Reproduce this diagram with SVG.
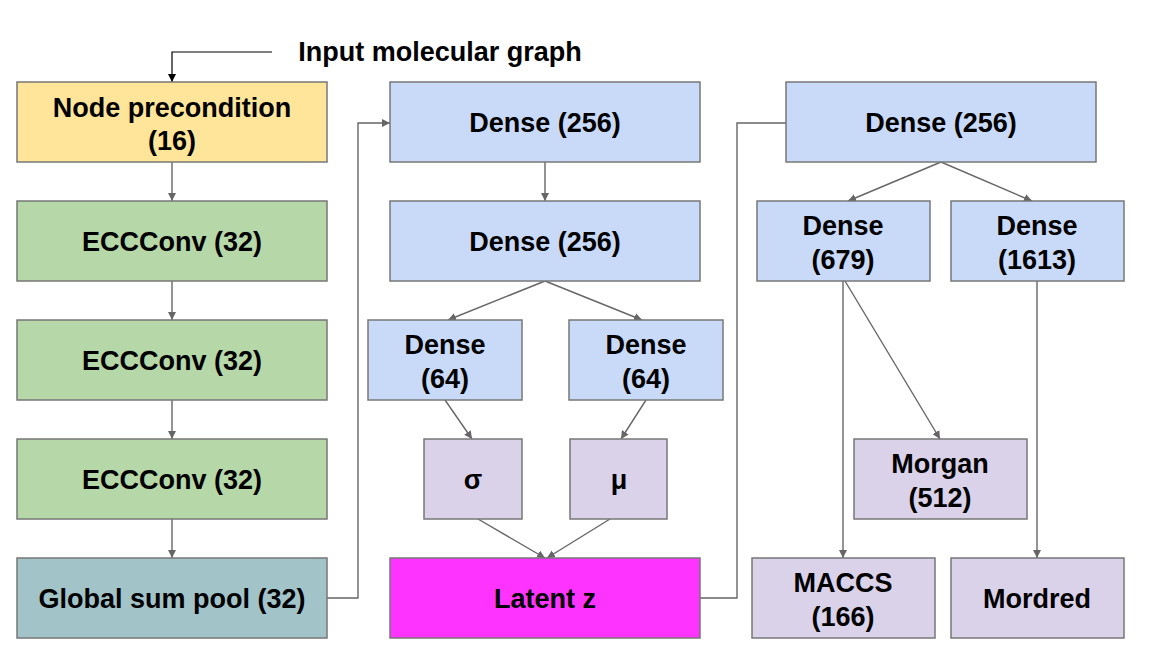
<svg xmlns="http://www.w3.org/2000/svg" width="1151" height="668" viewBox="0 0 1151 668">
<style>
.box{stroke:#777;stroke-width:1.5}
.y{fill:#ffe599}.g{fill:#b6d7a8}.t{fill:#a2c4c9}.b{fill:#c9daf8}.p{fill:#d9d2e9}.m{fill:#ff33ff}
text{font-family:"Liberation Sans",Arial,sans-serif;font-weight:bold;font-size:27px;fill:#000;text-anchor:middle}
.c{fill:none;stroke:#666;stroke-width:1.4}
</style>
<defs>
<marker id="ah" viewBox="0 0 10 10" refX="10" refY="5" markerWidth="8" markerHeight="8" markerUnits="userSpaceOnUse" orient="auto">
<path d="M0,0 L10,5 L0,10 z" fill="#666"/>
</marker>
<marker id="ahk" viewBox="0 0 10 10" refX="10" refY="5" markerWidth="8" markerHeight="8" markerUnits="userSpaceOnUse" orient="auto">
<path d="M0,0 L10,5 L0,10 z" fill="#000"/>
</marker>
</defs>
<rect width="1151" height="668" fill="#fff"/>
<g id="connectors">
<path d="M272,52 H172 V82" fill="none" stroke="#000" stroke-width="1.2" marker-end="url(#ahk)"/>
<path class="c" d="M172,162 V201" marker-end="url(#ah)"/>
<path class="c" d="M172,281 V320" marker-end="url(#ah)"/>
<path class="c" d="M172,400 V439" marker-end="url(#ah)"/>
<path class="c" d="M172,519 V558" marker-end="url(#ah)"/>
<path class="c" d="M327,598 H358 V123 H390" marker-end="url(#ah)"/>
<path class="c" d="M545,162 V201" marker-end="url(#ah)"/>
<path class="c" d="M545,281 L448,320" marker-end="url(#ah)"/>
<path class="c" d="M545,281 L642,320" marker-end="url(#ah)"/>
<path class="c" d="M445,400 L472,439" marker-end="url(#ah)"/>
<path class="c" d="M646,400 L621,439" marker-end="url(#ah)"/>
<path class="c" d="M478,519 L545,558" marker-end="url(#ah)"/>
<path class="c" d="M610,519 L547,558" marker-end="url(#ah)"/>
<path class="c" d="M700,598 H737 V123 H786"/>
<path class="c" d="M941,162 L848,201" marker-end="url(#ah)"/>
<path class="c" d="M941,162 L1032,201" marker-end="url(#ah)"/>
<path class="c" d="M843,281 V558" marker-end="url(#ah)"/>
<path class="c" d="M845,281 L940,439" marker-end="url(#ah)"/>
<path class="c" d="M1037,281 V558" marker-end="url(#ah)"/>
</g>
<g id="input-label"><text x="440" y="61">Input molecular graph</text></g>
<g id="node-precondition"><rect class="box y" x="17" y="82" width="310" height="80"/><text x="172" y="117">Node precondition</text><text x="172" y="150">(16)</text></g>
<g id="ecc1"><rect class="box g" x="17" y="201" width="310" height="80"/><text x="172" y="251">ECCConv (32)</text></g>
<g id="ecc2"><rect class="box g" x="17" y="320" width="310" height="80"/><text x="172" y="370">ECCConv (32)</text></g>
<g id="ecc3"><rect class="box g" x="17" y="439" width="310" height="80"/><text x="172" y="489">ECCConv (32)</text></g>
<g id="global-pool"><rect class="box t" x="17" y="558" width="310" height="80"/><text x="172" y="608">Global sum pool (32)</text></g>
<g id="enc-dense1"><rect class="box b" x="390" y="82" width="310" height="80"/><text x="545" y="132">Dense (256)</text></g>
<g id="enc-dense2"><rect class="box b" x="390" y="201" width="310" height="80"/><text x="545" y="251">Dense (256)</text></g>
<g id="dense64-left"><rect class="box b" x="368" y="320" width="154" height="80"/><text x="445" y="354">Dense</text><text x="445" y="388">(64)</text></g>
<g id="dense64-right"><rect class="box b" x="569" y="320" width="154" height="80"/><text x="646" y="354">Dense</text><text x="646" y="388">(64)</text></g>
<g id="sigma"><rect class="box p" x="424" y="439" width="98" height="80"/><text x="473" y="489">σ</text></g>
<g id="mu"><rect class="box p" x="570" y="439" width="97" height="80"/><text x="619" y="489">μ</text></g>
<g id="latent"><rect class="box m" x="390" y="558" width="310" height="80"/><text x="545" y="608">Latent z</text></g>
<g id="dec-dense"><rect class="box b" x="786" y="82" width="310" height="80"/><text x="941" y="132">Dense (256)</text></g>
<g id="dense679"><rect class="box b" x="757" y="201" width="173" height="80"/><text x="843" y="235">Dense</text><text x="843" y="269">(679)</text></g>
<g id="dense1613"><rect class="box b" x="951" y="201" width="173" height="80"/><text x="1037" y="235">Dense</text><text x="1037" y="269">(1613)</text></g>
<g id="morgan"><rect class="box p" x="854" y="439" width="173" height="80"/><text x="940" y="473">Morgan</text><text x="940" y="507">(512)</text></g>
<g id="maccs"><rect class="box p" x="752" y="558" width="183" height="80"/><text x="843" y="592">MACCS</text><text x="843" y="626">(166)</text></g>
<g id="mordred"><rect class="box p" x="951" y="558" width="173" height="80"/><text x="1037" y="608">Mordred</text></g>
</svg>
